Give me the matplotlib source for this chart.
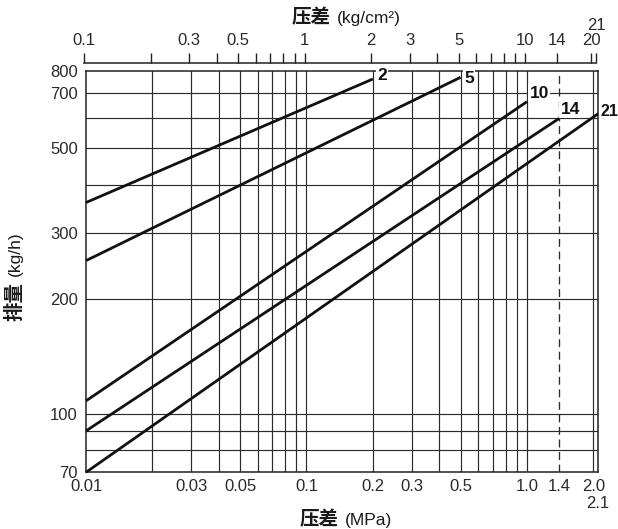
import matplotlib
matplotlib.use("Agg")
import matplotlib.pyplot as plt
from matplotlib.ticker import NullLocator, NullFormatter
import numpy as np

# ---------------- data ----------------
series_names = ["2", "5", "10", "14", "21"]          # line labels (kg/cm2 pressure rating)
p_start = [0.01, 0.01, 0.01, 0.01, 0.01]            # MPa
p_end = [0.2, 0.5, 1.0, 1.4, 2.1]                   # MPa
q_start = [360, 253, 108, 90, 70]                   # kg/h
q_end = [762, 770, 664, 600, 617]                   # kg/h

x_tick_vals = [0.01, 0.03, 0.05, 0.1, 0.2, 0.3, 0.5, 1.0, 1.4, 2.0]
x_tick_labels = ["0.01", "0.03", "0.05", "0.1", "0.2", "0.3", "0.5", "1.0", "1.4", "2.0"]
x_extra_val = 2.1
x_extra_label = "2.1"

y_tick_vals = [70, 100, 200, 300, 500, 700, 800]
y_tick_labels = ["70", "100", "200", "300", "500", "700", "800"]

x_grid = [0.02, 0.03, 0.04, 0.05, 0.06, 0.07, 0.08, 0.09,
          0.1, 0.2, 0.3, 0.4, 0.5, 0.6, 0.7, 0.8, 0.9, 1.0, 2.0]
x_dashed = [1.4]
y_grid = [80, 90, 100, 200, 300, 400, 500, 600, 700]

top_tick_vals = [0.1, 0.2, 0.3, 0.4, 0.5, 0.6, 0.7, 0.8, 0.9,
                 1, 2, 3, 4, 5, 6, 7, 8, 9, 10, 14, 20, 21]
top_label_vals = [0.1, 0.3, 0.5, 1, 2, 3, 5, 10, 14, 20]
top_label_texts = ["0.1", "0.3", "0.5", "1", "2", "3", "5", "10", "14", "20"]
top_extra_val = 21
top_extra_label = "21"

KG_TO_MPA = 0.0980665

# ---------------- figure ----------------
W, H = 618, 529
fig = plt.figure(figsize=(W / 100, H / 100), dpi=100)

ax_l, ax_r, ax_t, ax_b = 86, 598, 71, 472.3
ax = fig.add_axes([ax_l / W, 1 - ax_b / H, (ax_r - ax_l) / W, (ax_b - ax_t) / H])
ax.set_xscale("log")
ax.set_yscale("log")
xmin, xmax = 0.01, 2.1
ymin, ymax = 70, 800
ax.set_xlim(xmin, xmax)
ax.set_ylim(ymin, ymax)

grid_c = "#2b2b2b"
for xv in x_grid:
    ax.axvline(xv, color=grid_c, lw=0.85, zorder=1)
for xv in x_dashed:
    ax.axvline(xv, color=grid_c, lw=0.95, ls=(0, (6, 3.5)), zorder=1)
for yv in y_grid:
    ax.axhline(yv, color=grid_c, lw=0.85, zorder=1)

for s in ax.spines.values():
    s.set_linewidth(1.1)
    s.set_color("#222222")

label_offsets = {"2": (3, 2.5), "5": (2.5, -1), "10": (2, 6), "14": (1, 6.5), "21": (1.5, 2)}
label_sizes = {"2": 12.5, "5": 12.5, "10": 12.5, "14": 12.5, "21": 11.5}
for name, x0, x1, y0, y1 in zip(series_names, p_start, p_end, q_start, q_end):
    ax.plot([x0, x1], [y0, y1], color="#111111", lw=2.0, solid_capstyle="butt", zorder=3, clip_on=False)
    box = None if name == series_names[-1] else dict(boxstyle="square,pad=0.08", fc="white", ec="none")
    ax.annotate(name, xy=(x1, y1), xytext=label_offsets[name], textcoords="offset points",
                ha="left", va="center", fontsize=label_sizes[name], fontweight="bold",
                family=["Liberation Sans", "DejaVu Sans"], color="#111111",
                bbox=box, zorder=5, annotation_clip=False)

tick_font = dict(family=["Liberation Sans", "DejaVu Sans"], size=12, color="#2a2a2a")

ax.xaxis.set_minor_locator(NullLocator())
ax.xaxis.set_minor_formatter(NullFormatter())
ax.set_xticks(x_tick_vals, x_tick_labels)
ax.yaxis.set_minor_locator(NullLocator())
ax.yaxis.set_minor_formatter(NullFormatter())
ax.set_yticks(y_tick_vals, y_tick_labels)
ax.tick_params(axis="both", which="both", length=0)
ax.tick_params(axis="x", pad=5)
ax.tick_params(axis="y", pad=6)
for lab in ax.get_xticklabels() + ax.get_yticklabels():
    lab.set_fontfamily(tick_font["family"])
    lab.set_fontsize(tick_font["size"])
    lab.set_color(tick_font["color"])

ax.annotate(x_extra_label, xy=(x_extra_val, 0), xycoords=("data", "axes fraction"),
            xytext=(0, -22.5), textcoords="offset points", ha="center", va="center",
            annotation_clip=False, family=tick_font["family"], fontsize=tick_font["size"],
            color=tick_font["color"])

# ---------------- top (kg/cm2) axis ----------------
D = np.log10(xmax / xmin)
def frac(mpa):
    return np.log10(mpa / xmin) / D
k_lo, k_hi = 0.098, 21.2
f_lo, f_hi = frac(k_lo * KG_TO_MPA), frac(k_hi * KG_TO_MPA)
pw = ax_r - ax_l
top_y = 63.3
axt = fig.add_axes([(ax_l + pw * f_lo) / W, 1 - (top_y + 1) / H, pw * (f_hi - f_lo) / W, 1 / H])
axt.set_xscale("log")
axt.set_xlim(k_lo, k_hi)
axt.patch.set_visible(False)
for side in ["left", "right", "bottom"]:
    axt.spines[side].set_visible(False)
axt.spines["top"].set_bounds(top_tick_vals[0], top_tick_vals[-1])
axt.spines["top"].set_linewidth(1.1)
axt.spines["top"].set_color("#222222")
axt.set_yticks([])
axt.xaxis.set_minor_locator(NullLocator())
axt.xaxis.set_minor_formatter(NullFormatter())
labels_full = [top_label_texts[top_label_vals.index(v)] if v in top_label_vals else "" for v in top_tick_vals]
axt.set_xticks(top_tick_vals, labels_full)
axt.tick_params(axis="x", which="both", top=True, bottom=False, labeltop=True, labelbottom=False,
                direction="out", length=7, width=1.0, color="#222222", pad=4)
for lab in axt.get_xticklabels():
    lab.set_fontfamily(tick_font["family"])
    lab.set_fontsize(tick_font["size"])
    lab.set_color(tick_font["color"])
axt.annotate(top_extra_label, xy=(top_extra_val, 1), xycoords=("data", "axes fraction"),
             xytext=(0.5, 27.5), textcoords="offset points", ha="center", va="center",
             annotation_clip=False, family=tick_font["family"], fontsize=tick_font["size"],
             color=tick_font["color"])

# ---------------- axis titles ----------------
cjk = ["Noto Sans CJK SC", "DejaVu Sans"]
lat = ["Liberation Sans", "DejaVu Sans"]
tc = "#1a1a1a"
# top
fig.text(331 / W, 1 - 18 / H, "压差", ha="right", va="center", fontsize=14, fontweight="bold", family=cjk, color=tc)
fig.text(337 / W, 1 - 18.5 / H, "(kg/cm²)", ha="left", va="center", fontsize=12.5, family=lat, color=tc)
# bottom
fig.text(339 / W, 1 - 520 / H, "压差", ha="right", va="center", fontsize=14, fontweight="bold", family=cjk, color=tc)
fig.text(345 / W, 1 - 520.5 / H, "(MPa)", ha="left", va="center", fontsize=12.5, family=lat, color=tc)
# left
fig.text(15 / W, 1 - 282 / H, "排量", ha="center", va="top", rotation=90, fontsize=14, fontweight="bold", family=cjk, color=tc)
fig.text(15.5 / W, 1 - 276 / H, "(kg/h)", ha="center", va="bottom", rotation=90, fontsize=12.5, family=lat, color=tc)

fig.savefig("out.png", dpi=100)
